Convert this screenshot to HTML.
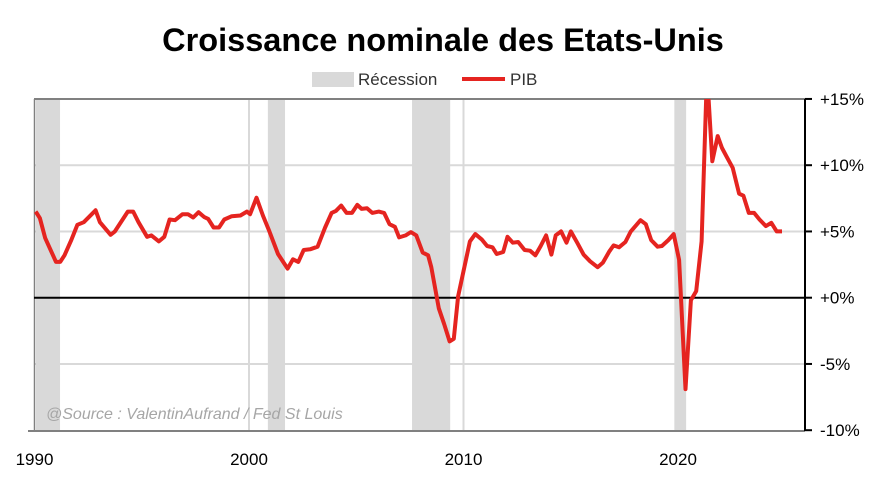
<!DOCTYPE html>
<html><head><meta charset="utf-8"><style>
body{margin:0;background:#fff;width:886px;height:473px;overflow:hidden;font-family:"Liberation Sans",sans-serif}
</style></head><body>
<svg id="chart" width="886" height="473">
<text x="443" y="51" text-anchor="middle" font-size="32.5" font-weight="bold" fill="#000">Croissance nominale des Etats-Unis</text>
<g>
<rect x="312" y="72" width="42" height="15" fill="#d9d9d9"/>
<text x="358" y="85" font-size="17" fill="#333">Récession</text>
<line x1="462" y1="79" x2="505" y2="79" stroke="#e52420" stroke-width="4"/>
<text x="510" y="85" font-size="17" fill="#333">PIB</text>
</g>
<defs><clipPath id="clip"><rect x="34" y="99" width="771" height="332"/></clipPath></defs>
<g id="rec"></g>
<g id="grid"></g>
<g id="axes"></g>
<text x="46" y="419" font-size="16" font-style="italic" fill="#a6a6a6">@Source : ValentinAufrand / Fed St Louis</text>
<g id="series" clip-path="url(#clip)"></g>
</svg>
<script>
const dates=[1990.05,1990.1,1990.25,1990.5,1991.0,1991.2,1991.4,1991.7,1992.0,1992.3,1992.85,1993.05,1993.55,1993.75,1994.35,1994.6,1994.85,1995.25,1995.45,1995.8,1996.05,1996.3,1996.55,1996.9,1997.15,1997.4,1997.65,1997.9,1998.1,1998.35,1998.6,1998.85,1999.2,1999.6,1999.9,2000.05,2000.35,2000.65,2000.95,2001.35,2001.8,2002.05,2002.3,2002.55,2002.85,2003.2,2003.55,2003.85,2004.05,2004.3,2004.55,2004.8,2005.05,2005.25,2005.5,2005.75,2006.05,2006.3,2006.55,2006.8,2007.0,2007.3,2007.55,2007.8,2008.1,2008.35,2008.5,2008.85,2009.1,2009.35,2009.55,2009.75,2010.0,2010.3,2010.55,2010.85,2011.1,2011.35,2011.55,2011.85,2012.05,2012.3,2012.55,2012.85,2013.1,2013.35,2013.6,2013.85,2014.1,2014.3,2014.55,2014.8,2015.0,2015.3,2015.6,2015.9,2016.25,2016.5,2016.8,2017.0,2017.25,2017.55,2017.8,2018.25,2018.5,2018.75,2019.05,2019.25,2019.55,2019.8,2020.05,2020.35,2020.6,2020.85,2021.1,2021.35,2021.6,2021.85,2022.05,2022.3,2022.55,2022.85,2023.05,2023.3,2023.55,2023.8,2024.1,2024.35,2024.6,2024.85];
const values=[6.5,6.4,6.0,4.5,2.7,2.7,3.2,4.3,5.5,5.7,6.6,5.7,4.75,5.0,6.5,6.5,5.7,4.6,4.7,4.25,4.6,5.9,5.85,6.3,6.3,6.05,6.45,6.1,5.95,5.3,5.3,5.9,6.15,6.2,6.5,6.3,7.55,6.2,5.0,3.3,2.2,2.9,2.7,3.6,3.65,3.85,5.3,6.4,6.55,6.95,6.4,6.4,7.0,6.7,6.75,6.4,6.5,6.4,5.55,5.35,4.55,4.7,4.95,4.7,3.4,3.2,2.3,-0.8,-2.0,-3.3,-3.1,0.1,2.0,4.25,4.8,4.4,3.9,3.8,3.3,3.45,4.6,4.15,4.2,3.6,3.55,3.2,3.9,4.7,3.25,4.7,5.0,4.15,5.0,4.15,3.25,2.75,2.3,2.65,3.5,3.95,3.8,4.2,5.0,5.85,5.55,4.35,3.85,3.9,4.35,4.8,2.85,-6.9,-0.2,0.5,4.25,17.0,10.3,12.2,11.3,10.55,9.8,7.85,7.7,6.4,6.4,5.9,5.4,5.65,5.0,5.0];
const recStart=[1990.07,2000.88,2007.6,2019.83];
const recEnd=[1991.19,2001.68,2009.38,2020.38];
const yTicks=[15,10,5,0,-5,-10];
const yTickLabels=["+15%","+10%","+5%","+0%","-5%","-10%"];
const xTicks=[1990,2000,2010,2020];
const xTickLabels=["1990","2000","2010","2020"];
const NS="http://www.w3.org/2000/svg";
function X(t){return 34.5+(t-1990)*21.45;}
function Y(v){return 297.7-v*13.25;}
function mk(tag,attrs,parent){const e=document.createElementNS(NS,tag);for(const k in attrs)e.setAttribute(k,attrs[k]);parent.appendChild(e);return e;}
(function(){
const rec=document.getElementById('rec'),grid=document.getElementById('grid'),axes=document.getElementById('axes'),series=document.getElementById('series');
recStart.forEach((s,i)=>{const r=mk('rect',{x:X(s),y:99,width:X(recEnd[i])-X(s),height:332,fill:'#d9d9d9'},rec);

});
yTicks.forEach((v,i)=>{
 if(v!==0&&v!==15&&v!==-10){const l=mk('line',{x1:34,x2:805,y1:Y(v),y2:Y(v),stroke:'#d9d9d9','stroke-width':2},grid);
 
 }
 const tk=mk('line',{x1:805,x2:812,y1:Y(v),y2:Y(v),stroke:'#000','stroke-width':2},axes);
 
 
 const t=mk('text',{x:820,y:Y(v)+6,'font-size':17,fill:'#000'},axes);t.textContent=yTickLabels[i];
 
 
});
xTicks.forEach((v,i)=>{
 if(v!==1990){const l=mk('line',{x1:X(v),x2:X(v),y1:99,y2:431,stroke:'#d9d9d9','stroke-width':2},grid);
 
 }
 const t=mk('text',{x:X(v),y:465,'font-size':17,fill:'#000','text-anchor':'middle'},axes);t.textContent=xTickLabels[i];
 
 
});
const topLine=mk('line',{x1:34,x2:805,y1:99,y2:99,stroke:'#808080','stroke-width':2},axes);


const botLine=mk('line',{x1:28,x2:805,y1:431,y2:431,stroke:'#808080','stroke-width':2},axes);


const leftLine=mk('line',{x1:34.5,x2:34.5,y1:99,y2:431,stroke:'#808080','stroke-width':1.5},axes);


const rightLine=mk('line',{x1:805,x2:805,y1:99,y2:431,stroke:'#000','stroke-width':2},axes);


const zeroLine=mk('line',{x1:34,x2:805,y1:Y(0),y2:Y(0),stroke:'#000','stroke-width':2},axes);


const d=dates.map((t,i)=>(i?'L':'M')+X(t).toFixed(1)+' '+Y(values[i]).toFixed(1)).join(' ');
const p=mk('path',{d:d,fill:'none',stroke:'#e52420','stroke-width':4,'stroke-linejoin':'round'},series);


})();
</script>
</body></html>
